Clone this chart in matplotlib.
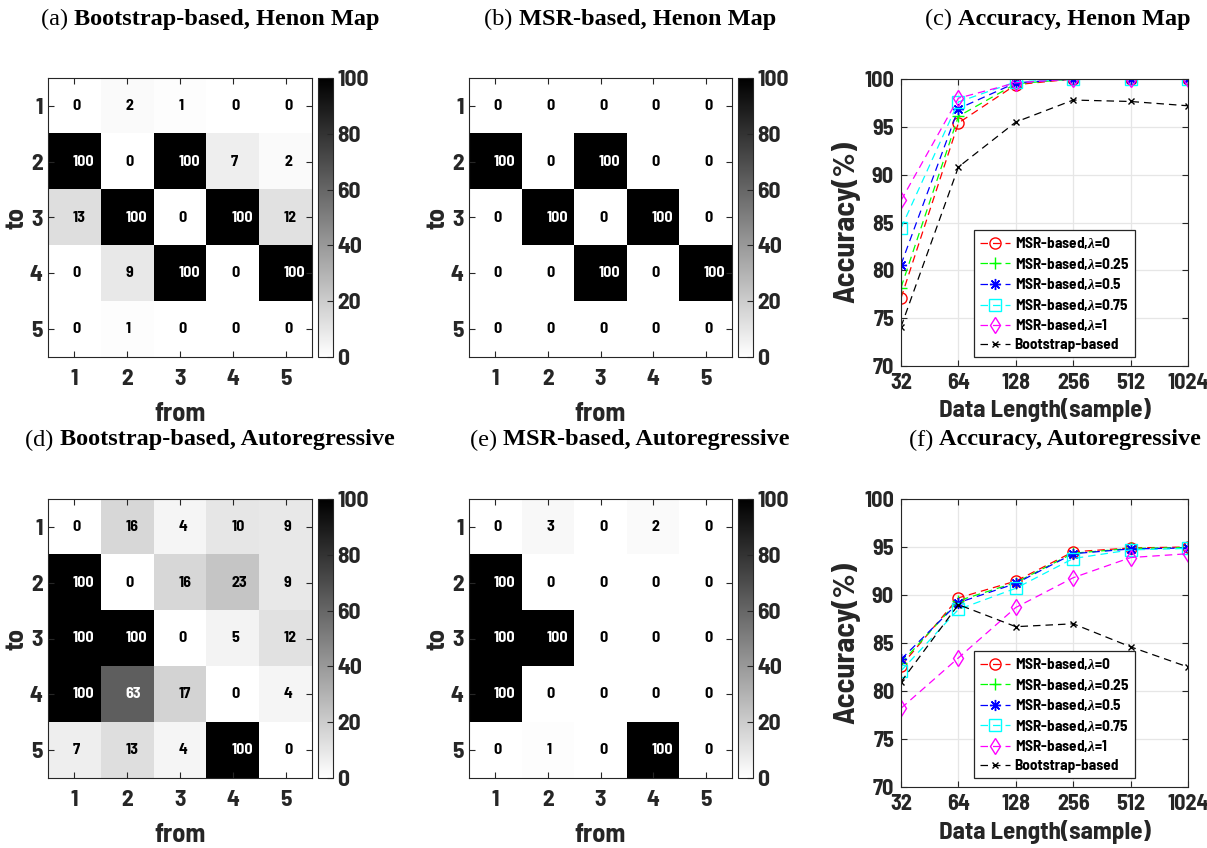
import numpy as np
import matplotlib
matplotlib.use('Agg')
import matplotlib.pyplot as plt

plt.rcParams['font.family'] = ['Barlow Semi Condensed', 'Liberation Sans']
plt.rcParams['font.weight'] = 'bold'
plt.rcParams['mathtext.fontset'] = 'custom'
plt.rcParams['mathtext.it'] = 'Liberation Serif:italic:bold'

# heatmaps: rows = "to", cols = "from"
boot_henon = [[0, 2, 1, 0, 0],
              [100, 0, 100, 7, 2],
              [13, 100, 0, 100, 12],
              [0, 9, 100, 0, 100],
              [0, 1, 0, 0, 0]]
msr_henon = [[0, 0, 0, 0, 0],
             [100, 0, 100, 0, 0],
             [0, 100, 0, 100, 0],
             [0, 0, 100, 0, 100],
             [0, 0, 0, 0, 0]]
boot_ar = [[0, 16, 4, 10, 9],
           [100, 0, 16, 23, 9],
           [100, 100, 0, 5, 12],
           [100, 63, 17, 0, 4],
           [7, 13, 4, 100, 0]]
msr_ar = [[0, 3, 0, 2, 0],
          [100, 0, 0, 0, 0],
          [100, 100, 0, 0, 0],
          [100, 0, 0, 0, 0],
          [0, 1, 0, 100, 0]]

# accuracy curves
lengths = [32, 64, 128, 256, 512, 1024]
labels = ['MSR-based,$\\lambda$=0', 'MSR-based,$\\lambda$=0.25', 'MSR-based,$\\lambda$=0.5',
          'MSR-based,$\\lambda$=0.75', 'MSR-based,$\\lambda$=1', 'Bootstrap-based']
acc_henon = [[77.1, 95.4, 99.4, 100, 100, 100],
             [78.2, 96.1, 99.5, 100, 100, 100],
             [80.6, 96.9, 99.6, 100, 100, 100],
             [84.4, 97.6, 99.7, 100, 100, 100],
             [87.3, 98.0, 99.6, 100, 100, 100],
             [74.1, 90.8, 95.5, 97.8, 97.65, 97.2]]
acc_ar = [[82.6, 89.7, 91.45, 94.5, 94.9, 95.0],
          [82.9, 89.4, 91.3, 94.35, 94.85, 94.95],
          [83.3, 89.2, 91.2, 94.3, 94.8, 94.9],
          [82.1, 88.5, 90.7, 93.8, 94.7, 94.85],
          [78.2, 83.45, 88.7, 91.8, 93.9, 94.3],
          [80.95, 89.0, 86.7, 87.0, 84.6, 82.5]]
colors = ['#ff0000', '#00ff00', '#0000ff', '#00ffff', '#ff00ff', '#000000']
markers = ['o', '+', (8, 2, 0), 's', 'd', 'x']

W, H = 1207, 848
fig = plt.figure(figsize=(W / 100, H / 100), dpi=100)
INK = '#262626'


def px_axes(x0, y0, x1, y1):
    return fig.add_axes([x0 / W, 1 - y1 / H, (x1 - x0) / W, (y1 - y0) / H])


def heatmap(data, box, cbox):
    ax = px_axes(*box)
    m = np.array(data)
    im = ax.imshow(m, cmap='gray_r', vmin=0, vmax=100, aspect='auto',
                   extent=(0.5, 5.5, 5.5, 0.5))
    for i in range(5):
        for j in range(5):
            v = m[i, j]
            ax.text(j + 1 - 0.03, i + 1, str(v), ha='left', va='center',
                    fontsize=11.5, fontweight='bold',
                    color='white' if v > 50 else 'black')
    ax.set_xticks(range(1, 6))
    ax.set_yticks(range(1, 6))
    ax.tick_params(direction='in', length=4, top=True, right=True,
                   labelsize=17, color=INK, labelcolor=INK)
    ax.tick_params(axis='x', pad=9)
    ax.tick_params(axis='y', pad=4)
    ax.set_xlabel('from', fontsize=19, fontweight='bold', color=INK, labelpad=9)
    ax.set_ylabel('to', fontsize=19, fontweight='bold', color=INK, labelpad=1)
    for s in ax.spines.values():
        s.set_color(INK)
    cax = px_axes(*cbox)
    cb = fig.colorbar(im, cax=cax, ticks=[0, 20, 40, 60, 80, 100])
    cb.ax.tick_params(direction='in', length=4, labelsize=17, color=INK,
                      labelcolor=INK, pad=3)
    cb.outline.set_edgecolor(INK)


def accuracy(data, box):
    ax = px_axes(*box)
    for k in range(6):
        ax.plot(lengths, data[k], '--', color=colors[k], marker=markers[k],
                markerfacecolor='none', markersize=8 if k < 5 else 5,
                linewidth=0.9, dashes=(6, 4), label=labels[k])
    ax.set_xscale('log', base=2)
    ax.set_xticks(lengths)
    ax.set_xticklabels([str(v) for v in lengths])
    ax.minorticks_off()
    ax.set_xlim(32, 1024)
    ax.set_ylim(70, 100)
    ax.set_yticks(range(70, 101, 5))
    ax.grid(True, color='#e6e6e6', linewidth=0.9)
    ax.tick_params(direction='in', length=4, top=True, right=True, labelsize=16,
                   color=INK, labelcolor=INK, pad=5)
    ax.set_ylabel('Accuracy(%)', fontsize=22, fontweight='bold', color=INK, labelpad=3)
    ax.set_xlabel('Data Length(sample)', fontsize=18, fontweight='bold', color=INK, labelpad=4)
    for s in ax.spines.values():
        s.set_color(INK)
    leg = ax.legend(loc='lower left', bbox_to_anchor=(0.255, 0.03), fontsize=11,
                    fancybox=False, edgecolor=INK, framealpha=1,
                    handlelength=2.0, handletextpad=0.3, borderpad=0.35,
                    labelspacing=0.3, borderaxespad=0)
    leg.get_frame().set_linewidth(0.9)


def title(prefix, body, xc, yc):
    r = fig.canvas.get_renderer()
    t1 = fig.text(0, 0, prefix + ' ', family='Liberation Serif', fontsize=17.5,
                  fontweight='normal', va='center')
    t2 = fig.text(0, 0, body, family='Liberation Serif', fontsize=17.5,
                  fontweight='bold', va='center')
    w1 = t1.get_window_extent(r).width
    w2 = t2.get_window_extent(r).width
    x0 = xc - (w1 + w2) / 2
    t1.set_position((x0 / W, 1 - yc / H))
    t2.set_position(((x0 + w1) / W, 1 - yc / H))


heatmap(boot_henon, (48, 78, 312, 357), (318, 78, 333, 357))
heatmap(msr_henon, (469, 78, 732, 357), (738, 78, 753, 357))
accuracy(acc_henon, (901, 79, 1188, 366))
heatmap(boot_ar, (48, 499, 312, 778), (318, 499, 333, 778))
heatmap(msr_ar, (469, 499, 732, 778), (738, 499, 753, 778))
accuracy(acc_ar, (901, 499, 1188, 787))

title('(a)', 'Bootstrap-based, Henon Map', 210, 19)
title('(b)', 'MSR-based, Henon Map', 630, 19)
title('(c)', 'Accuracy, Henon Map', 1058, 19)
title('(d)', 'Bootstrap-based, Autoregressive', 210, 440)
title('(e)', 'MSR-based, Autoregressive', 630, 440)
title('(f)', 'Accuracy, Autoregressive', 1055, 440)

fig.savefig('out.png', dpi=100)
